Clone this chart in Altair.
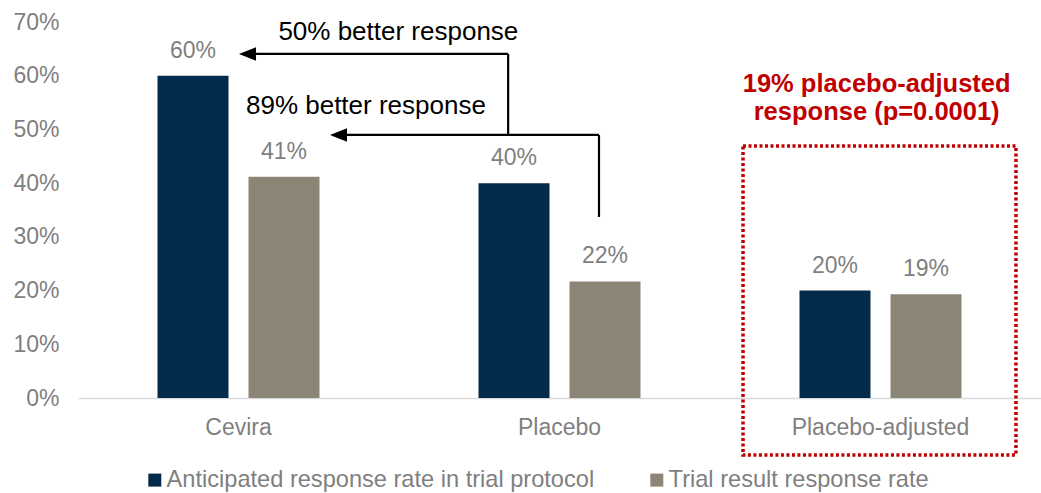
import altair as alt
import pandas as pd

# ---- data -------------------------------------------------------------
categories = ["Cevira", "Placebo", "Placebo-adjusted"]
series = ["Anticipated response rate in trial protocol", "Trial result response rate"]
anticipated = [0.60, 0.40, 0.20]
trial_result = [0.412, 0.217, 0.193]
colors = ["#022B4B", "#8B8575"]

# annotation geometry in data units (x: category index 0..3, y: response rate)
arrow_seg_x = [1.623, 1.623, 1.340, 1.340]
arrow_seg_x2 = [1.623, 0.80, 1.340, 0.515]
arrow_seg_y = [0.337, 0.4897, 0.4897, 0.6405]
arrow_seg_y2 = [0.4897, 0.4897, 0.6405, 0.6405]
arrow_tip_x = [0.785, 0.5016]
arrow_tip_y = [0.4897, 0.6405]
note_text = ["50% better response", "89% better response"]
note_x = [0.998, 0.897]
note_y = [0.6814, 0.5437]
red_text = ["19% placebo-adjusted", "response (p=0.0001)"]
red_x = [2.488, 2.488]
red_y = [0.5846, 0.5330]
box_x, box_x2, box_y, box_y2 = [2.0717], [2.922], [0.4692], [-0.1061]

FONT = "Liberation Sans"
GRAY = "#7F7F7F"
RED = "#C00000"

rows = []
for i, c in enumerate(categories):
    rows.append({"cat": c, "series": series[0], "value": anticipated[i]})
    rows.append({"cat": c, "series": series[1], "value": trial_result[i]})
df = pd.DataFrame(rows)

yscale = alt.Scale(domain=[0, 0.7], nice=False, zero=False)
xband = alt.Scale(paddingInner=0, paddingOuter=0)

x_bars = alt.X(
    "cat:N", sort=categories, title=None, scale=xband,
    axis=alt.Axis(labelAngle=0, ticks=False, grid=False, domainColor="#D9D9D9",
                  domainWidth=1.5, labelColor=GRAY, labelFontSize=23, labelFont=FONT,
                  labelPadding=18),
)
y_bars = alt.Y(
    "value:Q", scale=yscale, title=None,
    axis=alt.Axis(format=".0%", values=[0, 0.1, 0.2, 0.3, 0.4, 0.5, 0.6, 0.7],
                  ticks=False, domain=False, grid=False, labelColor=GRAY,
                  labelFontSize=23, labelFont=FONT, labelPadding=19),
)
xoff = alt.XOffset("series:N", sort=series,
                   scale=alt.Scale(paddingInner=0.2198, paddingOuter=0.8736))

bars = alt.Chart(df).mark_bar().encode(
    x=x_bars, y=y_bars, xOffset=xoff,
    color=alt.Color(
        "series:N", sort=series,
        scale=alt.Scale(domain=series, range=colors),
        legend=alt.Legend(orient="none", legendX=65, legendY=446, direction="horizontal",
                          title=None, symbolType="square", symbolSize=169,
                          symbolStrokeWidth=0, labelFontSize=23.6, labelColor=GRAY,
                          labelFont=FONT, labelOffset=0, columnPadding=50, padding=0,
                          labelLimit=0),
    ),
)

labels = alt.Chart(df).mark_text(dy=-25, baseline="middle", fontSize=23, font=FONT,
                                 color=GRAY).encode(
    x=alt.X("cat:N", sort=categories, title=None, scale=xband, axis=None),
    y=alt.Y("value:Q", scale=yscale, title=None),
    xOffset=xoff,
    text=alt.Text("value:Q", format=".0%"),
)


def xq(f):
    return alt.X(f, type="quantitative", scale=alt.Scale(domain=[0, 3], nice=False, zero=False),
                 axis=None, title=None)


def yq(f):
    return alt.Y(f, type="quantitative", scale=yscale, title=None)


seg_df = pd.DataFrame({"x": arrow_seg_x, "x2": arrow_seg_x2, "y": arrow_seg_y, "y2": arrow_seg_y2})
rules = alt.Chart(seg_df).mark_rule(color="black", strokeWidth=2.2).encode(
    x=xq("x"), x2="x2", y=yq("y"), y2="y2")

tip_df = pd.DataFrame({"x": arrow_tip_x, "y": arrow_tip_y})
heads = alt.Chart(tip_df).mark_point(shape="M0,0L2,-0.8L2,0.8Z", size=289, filled=True,
                                     color="black", opacity=1, strokeWidth=0).encode(
    x=xq("x"), y=yq("y"))

note_df = pd.DataFrame({"t": note_text, "x": note_x, "y": note_y})
notes = alt.Chart(note_df).mark_text(fontSize=26, font=FONT, color="black",
                                     baseline="middle", align="center").encode(
    x=xq("x"), y=yq("y"), text="t:N")

red_df = pd.DataFrame({"t": red_text, "x": red_x, "y": red_y})
reds = alt.Chart(red_df).mark_text(fontSize=25.5, font=FONT, fontWeight="bold", color=RED,
                                   baseline="middle", align="center").encode(
    x=xq("x"), y=yq("y"), text="t:N")

box_df = pd.DataFrame({"x": box_x, "x2": box_x2, "y": box_y, "y2": box_y2})
box = alt.Chart(box_df).mark_rect(fillOpacity=0, stroke=RED, strokeWidth=3.5,
                                  strokeDash=[3, 2.5]).encode(
    x=xq("x"), x2="x2", y=yq("y"), y2="y2")

chart = alt.layer(bars, labels, rules, heads, notes, reds, box).resolve_scale(
    x="independent"
).properties(
    width=963, height=376,
    autosize=alt.AutoSizeParams(type="none"),
    padding={"left": 78, "top": 22, "right": 0, "bottom": 95},
    background="white",
).configure_view(stroke=None)

chart.save("out.html", embed_options={"renderer": "svg", "actions": False})
